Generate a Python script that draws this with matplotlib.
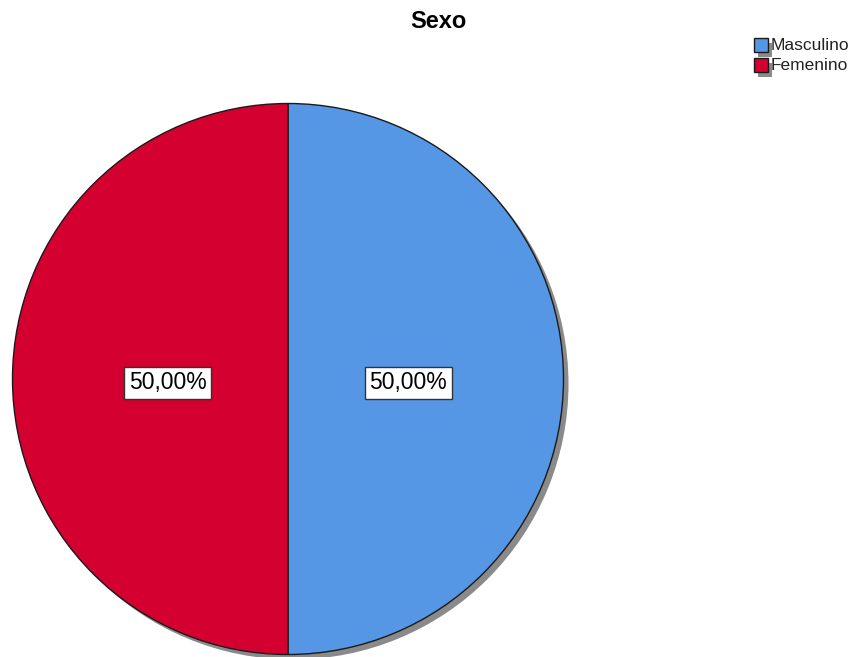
import matplotlib
matplotlib.use("Agg")
import matplotlib.pyplot as plt
from matplotlib.patches import Circle, Rectangle
import numpy as np

categories = ["Masculino", "Femenino"]
values = [50.0, 50.0]
colors = ["#5597e4", "#d4002f"]
title = "Sexo"

W, H = 851, 657
fig = plt.figure(figsize=(W / 100, H / 100), dpi=100)
ax = fig.add_axes([0, 0, 1, 1])

cx, cy, r = 288, H - 379, 275.5

# shadow
ax.add_patch(Circle((cx + 5, cy - 5), r, facecolor="#8a8a8a", edgecolor="none", zorder=1))

wedges, _ = ax.pie(values, colors=colors, startangle=90, counterclock=False,
                   center=(cx, cy), radius=r, frame=True,
                   wedgeprops=dict(edgecolor="#1a1a1a", linewidth=1.0))
for w in wedges:
    w.set_zorder(2)

total = sum(values)
ang = 90.0
for v in values:
    span = v / total * 360.0
    mid = np.deg2rad(ang - span / 2)
    ang -= span
    x = cx + 0.437 * r * np.cos(mid)
    y = cy - 4
    ax.text(x, y, f"{v:.2f}%".replace(".", ","), ha="center", va="center",
            fontsize=16.5, family="Liberation Sans", zorder=5,
            bbox=dict(boxstyle="square,pad=0.2", facecolor="white",
                      edgecolor="#333333", linewidth=1.0))

ax.text(438, H - 22, title, ha="center", va="center", fontsize=17,
        fontweight="bold", family="Liberation Sans")

# legend
for i, (cat, col) in enumerate(zip(categories, colors)):
    top = 38 + i * 20
    ax.add_patch(Rectangle((758, H - top - 14 - 5), 14, 14, facecolor="#8a8a8a",
                           edgecolor="none", zorder=3))
    ax.add_patch(Rectangle((754, H - top - 14), 14, 14, facecolor=col,
                           edgecolor="#1a1a1a", linewidth=1.0, zorder=4))
    ax.text(771, H - top - 7, cat, ha="left", va="center", fontsize=12.5,
            family="Liberation Sans", color="#222222", zorder=5)

ax.set_xlim(0, W)
ax.set_ylim(0, H)
ax.set_aspect("auto")
ax.axis("off")
fig.savefig("out.png", dpi=100)
